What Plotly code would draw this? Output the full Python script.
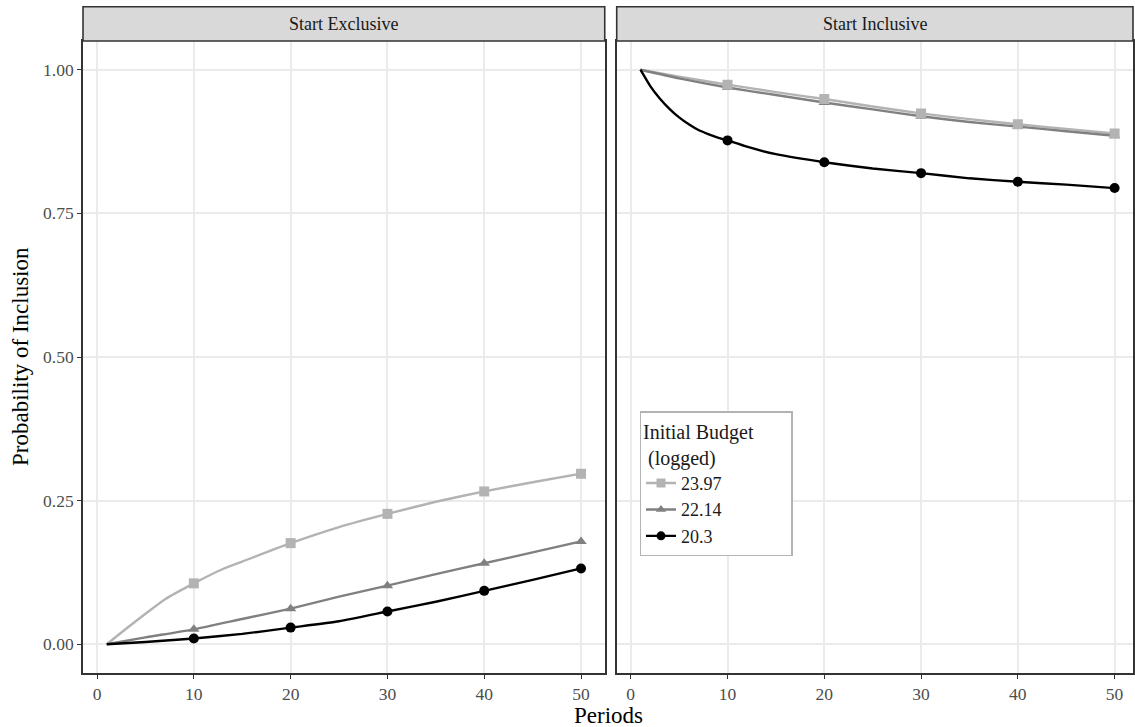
import plotly.graph_objects as go

# ---- data ----
panels = ["Start Exclusive", "Start Inclusive"]
budgets = ["23.97", "22.14", "20.3"]
colors = {"23.97": "#b3b3b3", "22.14": "#808080", "20.3": "#000000"}
symbols = {"23.97": "square", "22.14": "triangle-up", "20.3": "circle"}

# Start Exclusive
excl_x_light = [1, 3, 5, 7, 10, 13, 15, 20, 25, 30, 35, 40, 45, 50]
excl_y_light = [0.0, 0.027, 0.053, 0.078, 0.106, 0.131, 0.144, 0.176, 0.204, 0.227, 0.248, 0.266, 0.282, 0.297]
excl_x_gray = [1, 5, 10, 15, 20, 25, 30, 35, 40, 45, 50]
excl_y_gray = [0.0, 0.012, 0.026, 0.044, 0.062, 0.083, 0.102, 0.122, 0.141, 0.160, 0.179]
excl_x_black = [1, 5, 10, 15, 20, 25, 30, 35, 40, 45, 50]
excl_y_black = [0.0, 0.004, 0.010, 0.018, 0.029, 0.040, 0.057, 0.074, 0.093, 0.112, 0.132]

# Start Inclusive
incl_x_light = [1, 5, 10, 15, 20, 25, 30, 35, 40, 45, 50]
incl_y_light = [1.0, 0.988, 0.974, 0.961, 0.949, 0.936, 0.924, 0.914, 0.905, 0.897, 0.889]
incl_x_gray = [1, 5, 10, 15, 20, 25, 30, 35, 40, 45, 50]
incl_y_gray = [1.0, 0.985, 0.969, 0.956, 0.943, 0.931, 0.919, 0.909, 0.901, 0.893, 0.885]
incl_x_black = [1, 2, 3, 4, 5, 6, 7, 8, 9, 10, 12, 15, 20, 25, 30, 35, 40, 45, 50]
incl_y_black = [1.0, 0.972, 0.950, 0.932, 0.917, 0.905, 0.895, 0.888, 0.882, 0.877, 0.866, 0.853, 0.839, 0.828, 0.820, 0.811, 0.805, 0.800, 0.794]

marker_periods = [10, 20, 30, 40, 50]

series = {
    ("Start Exclusive", "23.97"): (excl_x_light, excl_y_light),
    ("Start Exclusive", "22.14"): (excl_x_gray, excl_y_gray),
    ("Start Exclusive", "20.3"): (excl_x_black, excl_y_black),
    ("Start Inclusive", "23.97"): (incl_x_light, incl_y_light),
    ("Start Inclusive", "22.14"): (incl_x_gray, incl_y_gray),
    ("Start Inclusive", "20.3"): (incl_x_black, incl_y_black),
}

FONT = "Liberation Serif"
fig = go.Figure()

axes = {"Start Exclusive": ("x", "y"), "Start Inclusive": ("x2", "y2")}

for p in panels:
    xa, ya = axes[p]
    for b in budgets:
        xs, ys = series[(p, b)]
        fig.add_trace(go.Scatter(x=xs, y=ys, mode="lines", xaxis=xa, yaxis=ya,
                                 line=dict(color=colors[b], width=2.4, shape="spline", smoothing=0.5),
                                 showlegend=False, hoverinfo="skip"))
    for b in reversed(budgets):
        xs, ys = series[(p, b)]
        mx = [x for x in xs if x in marker_periods]
        my = [y for x, y in zip(xs, ys) if x in marker_periods]
        fig.add_trace(go.Scatter(x=mx, y=my, mode="markers", xaxis=xa, yaxis=ya,
                                 marker=dict(color=colors[b], symbol=symbols[b], size=10,
                                             line=dict(width=0)),
                                 showlegend=False))

for b in budgets:
    fig.add_trace(go.Scatter(x=[None], y=[None], mode="lines+markers", name=b,
                             line=dict(color=colors[b], width=2.4),
                             marker=dict(color=colors[b], symbol=symbols[b], size=9)))

axis_common = dict(showline=True, mirror=True, linecolor="#333333", linewidth=1.6,
                   showgrid=True, gridcolor="#ebebeb", gridwidth=1.6, zeroline=False,
                   ticklen=4, tickwidth=1.4, tickcolor="#333333",
                   tickfont=dict(family=FONT, size=17.5, color="#4d4d4d"))

xticks = [0, 10, 20, 30, 40, 50]
yticks = [0, 0.25, 0.5, 0.75, 1.0]
ytext = ["0.00", "0.25", "0.50", "0.75", "1.00"]

fig.update_layout(
    width=1135, height=727,
    margin=dict(l=83, r=0, t=41, b=54),
    paper_bgcolor="white", plot_bgcolor="white",
    xaxis=dict(domain=[0, 0.4969], range=[-1.45, 52.45], tickvals=xticks, ticks="outside",
               anchor="y", **axis_common),
    xaxis2=dict(domain=[0.5083, 1], range=[-1.45, 51.9], tickvals=xticks, ticks="outside",
                anchor="y2", **axis_common),
    yaxis=dict(domain=[0, 1], range=[-0.05, 1.05], tickvals=yticks, ticktext=ytext, ticks="outside",
               anchor="x", **axis_common),
    yaxis2=dict(domain=[0, 1], range=[-0.05, 1.05], tickvals=yticks, showticklabels=False, ticks="",
                anchor="x2", **axis_common),
    legend=dict(x=0.530, y=0.414, xanchor="left", yanchor="top",
                bgcolor="white", bordercolor="#b3b3b3", borderwidth=1.5,
                font=dict(family=FONT, size=18, color="#1a1a1a"),
                title=dict(text="Initial Budget" + "&nbsp;" * 7 + "<br> (logged)",
                           font=dict(family=FONT, size=20, color="#1a1a1a")),
                itemwidth=30, tracegroupgap=0),
    font=dict(family=FONT),
)

# strips
strip_top = 1.0543
for (x0, x1), label in zip([(0, 0.4969), (0.5083, 1.0)], panels):
    fig.add_shape(type="rect", xref="paper", yref="paper", x0=x0, x1=x1, y0=1.0, y1=strip_top,
                  fillcolor="#d9d9d9", line=dict(color="#333333", width=1.6), layer="above")
    fig.add_annotation(x=(x0 + x1) / 2, y=(1.0 + strip_top) / 2, xref="paper", yref="paper",
                       text=label, showarrow=False, xanchor="center", yanchor="middle",
                       font=dict(family=FONT, size=18, color="#1a1a1a"))

fig.add_annotation(x=0.5, y=-0.068, xref="paper", yref="paper", text="Periods",
                   showarrow=False, xanchor="center", yanchor="middle",
                   font=dict(family=FONT, size=23, color="#000000"))
fig.add_annotation(x=-0.060, y=0.5, xref="paper", yref="paper", text="Probability of Inclusion",
                   showarrow=False, textangle=-90, xanchor="center", yanchor="middle",
                   font=dict(family=FONT, size=23, color="#000000"))

fig.write_html("out.html")
